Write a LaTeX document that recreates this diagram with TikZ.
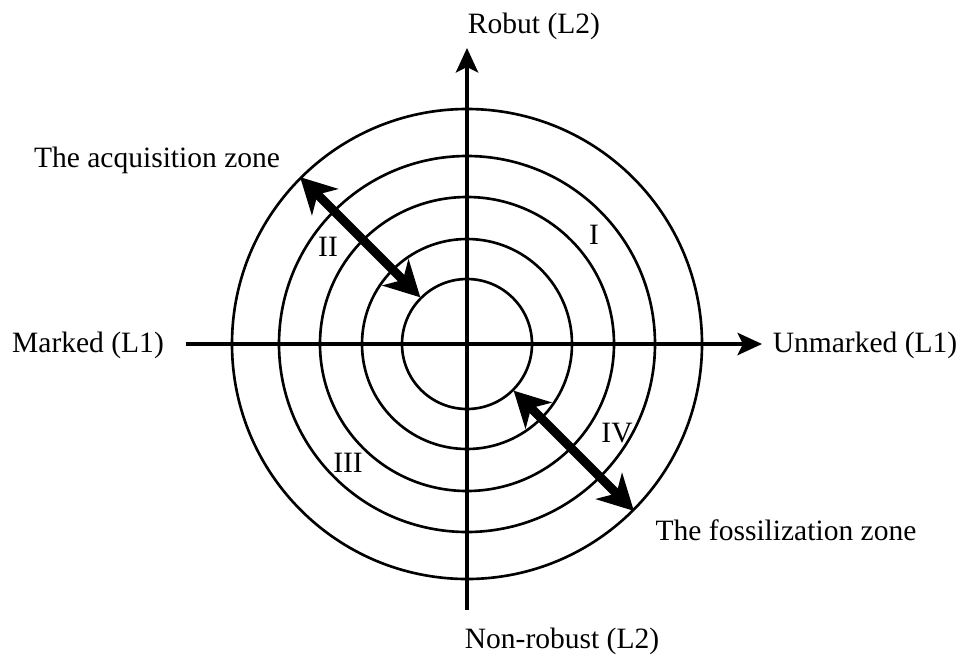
\documentclass[tikz,border=0pt]{standalone}
\usepackage{fontspec}
\setmainfont{Liberation Serif}
\usetikzlibrary{arrows.meta,calc}

\begin{document}
\begin{tikzpicture}[
  ring/.style={draw, line width=0.75pt},
  axis/.style={line width=0.9pt, -{Stealth[length=7pt, width=6.4pt, inset=1.6pt]}},
  zone/.style={line width=2.6pt, {Stealth[length=10pt, width=10.5pt, inset=3pt]}-{Stealth[length=10pt, width=10.5pt, inset=3pt]}},
  txt/.style={font=\fontsize{8.4}{10}\selectfont, inner sep=0pt},
  quad/.style={font=\fontsize{8.4}{10}\selectfont, inner sep=0pt}
]
\useasboundingbox (0,0) rectangle (9.61,6.57);
% Centre and rings
\coordinate (o) at (4.67,3.13);
\draw[ring] (o) circle (0.65);
\draw[ring] (o) circle (1.05);
\draw[ring] (o) circle (1.47);
\draw[ring] (o) circle (1.88);
\draw[ring] (o) circle (2.35);
% Axes
\coordinate (left) at (1.86,3.13);
\coordinate (right) at (7.62,3.13);
\coordinate (bottom) at (4.67,0.47);
\coordinate (top) at (4.67,6.09);
\draw[axis] (left) -- (right);
\draw[axis] (bottom) -- (top);
% Zone arrows
\coordinate (acqout) at ($(o)+(135:2.36)$);
\coordinate (acqin) at ($(o)+(135:0.66)$);
\coordinate (fosin) at ($(o)+(-45:0.66)$);
\coordinate (fosout) at ($(o)+(-45:2.36)$);
\draw[zone] (acqout) -- (acqin);
\draw[zone] (fosin) -- (fosout);
% Axis labels
\node[txt] (robust) at (5.34,6.31) {Robut (L2)};
\node[txt] (nonrobust) at (5.62,0.16) {Non-robust (L2)};
\node[txt] (marked) at (0.88,3.12) {Marked (L1)};
\node[txt] (unmarked) at (8.65,3.12) {Unmarked (L1)};
% Zone labels
\node[txt] (acq) at (1.57,4.97) {The acquisition zone};
\node[txt] (fos) at (7.86,1.27) {The fossilization zone};
% Quadrants
\node[quad] (q1) at (5.94,4.22) {I};
\node[quad] (q2) at (3.28,4.10) {II};
\node[quad] (q3) at (3.48,1.94) {III};
\node[quad] (q4) at (6.17,2.24) {IV};
\end{tikzpicture}
\end{document}
